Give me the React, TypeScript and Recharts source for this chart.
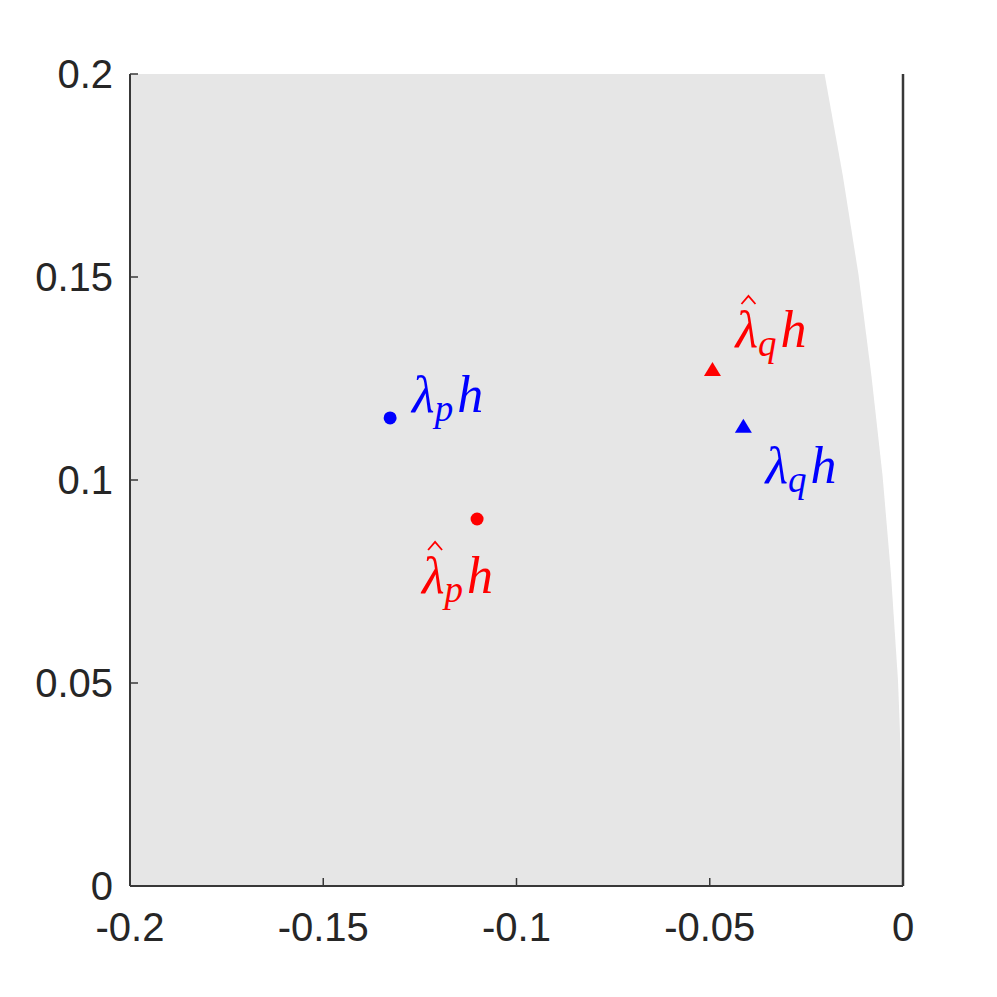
import { ComposedChart, Area, Scatter, XAxis, YAxis, ReferenceLine } from "recharts"

// stability region boundary (gray = region under the curve)
const boundaryX = [-0.2, -0.0203, -0.0156, -0.0115, -0.0082, -0.0053, -0.0031, -0.0013, -0.0009, -0.0002, 0]
const boundaryY = [0.2, 0.2, 0.1751, 0.1505, 0.1259, 0.1012, 0.0766, 0.0507, 0.0409, 0.0212, 0]

// exact eigenvalues (blue) and approximations (red)
const exactNames = ["p", "q"]
const exactX = [-0.1327, -0.0413]
const exactY = [0.1153, 0.1131]

const approxNames = ["p", "q"]
const approxX = [-0.1102, -0.0493]
const approxY = [0.0904, 0.1271]

const xTicks = [-0.2, -0.15, -0.1, -0.05, 0]
const yTicks = [0, 0.05, 0.1, 0.15, 0.2]

const W = 989
const H = 989
const SANS = "'Liberation Sans', Arial, Helvetica, sans-serif"
const MATH = "'Liberation Serif', 'Times New Roman', serif"
const TICK_COLOR = "#262626"
const AXIS_COLOR = "#383838"

const boundary = boundaryX.map((x, i) => ({ x, y: boundaryY[i] }))
const exact = exactX.map((x, i) => ({ x, y: exactY[i], name: exactNames[i], hat: false }))
const approx = approxX.map((x, i) => ({ x, y: approxY[i], name: approxNames[i], hat: true }))

// label offsets from the marker: [dx to text start, dy to baseline]
const offsets: Record<string, [number, number]> = {
  p: [22, -6],
  q: [22, 56],
  hp: [-55, 74],
  hq: [23, -23],
}

function Marker(props: any) {
  const { cx, cy, fill, payload } = props
  const key = (payload.hat ? "h" : "") + payload.name
  const [dx, dy] = offsets[key]
  const lx = cx + dx
  const ly = cy + dy
  const marker =
    payload.name === "p" ? (
      <circle cx={cx} cy={cy} r={6.5} fill={fill} />
    ) : (
      <polygon points={`${cx},${cy - 8} ${cx - 8.5},${cy + 6} ${cx + 8.5},${cy + 6}`} fill={fill} />
    )
  return (
    <g>
      {marker}
      {payload.hat && (
        <path d={`M${lx + 6},${ly - 43} L${lx + 13},${ly - 51} L${lx + 20},${ly - 43}`} stroke={fill} strokeWidth={1.8} fill="none" />
      )}
      <text x={lx} y={ly} fill={fill} fontFamily={MATH} fontStyle="italic" fontSize={52}>
        λ
        <tspan fontSize={37} dy={9}>
          {payload.name}
        </tspan>
        <tspan fontSize={52} dy={-9} dx={4}>
          h
        </tspan>
      </text>
    </g>
  )
}

function XTick(props: any) {
  const { x, y, payload } = props
  return (
    <g>
      <line x1={x} x2={x} y1={y - 27} y2={y - 35} stroke={AXIS_COLOR} strokeWidth={1.5} />
      <text x={x} y={y} dy="0.71em" textAnchor="middle" fill={TICK_COLOR} fontFamily={SANS} fontSize={40}>
        {String(payload.value)}
      </text>
    </g>
  )
}

function YTick(props: any) {
  const { x, y, payload } = props
  return (
    <g>
      <line x1={x + 17} x2={x + 25} y1={y} y2={y} stroke={AXIS_COLOR} strokeWidth={1.5} />
      <text x={x} y={y} dy="0.36em" textAnchor="end" fill={TICK_COLOR} fontFamily={SANS} fontSize={40}>
        {String(payload.value)}
      </text>
    </g>
  )
}

export default function App() {
  return (
    <div style={{ width: W, height: H }}>
      <ComposedChart width={W} height={H} margin={{ top: 66, right: 94, bottom: 51, left: 22 }}>
        <XAxis
          type="number"
          dataKey="x"
          domain={[-0.2, 0]}
          ticks={xTicks}
          allowDataOverflow
          height={60}
          tickSize={0}
          tickMargin={27}
          tickLine={false}
          axisLine={{ stroke: AXIS_COLOR, strokeWidth: 2 }}
          tick={<XTick />}
        />
        <YAxis
          type="number"
          domain={[0, 0.2]}
          ticks={yTicks}
          allowDataOverflow
          width={100}
          tickSize={0}
          tickMargin={17}
          tickLine={false}
          axisLine={{ stroke: AXIS_COLOR, strokeWidth: 2 }}
          tick={<YTick />}
        />
        <Area
          data={boundary}
          dataKey="y"
          type="linear"
          fill="#e6e6e6"
          fillOpacity={1}
          stroke="none"
          baseValue={0}
          isAnimationActive={false}
        />
        <ReferenceLine x={0} stroke={AXIS_COLOR} strokeWidth={2.5} />
        <Scatter data={exact} dataKey="y" fill="#0000ff" shape={<Marker />} isAnimationActive={false} />
        <Scatter data={approx} dataKey="y" fill="#ff0000" shape={<Marker />} isAnimationActive={false} />
      </ComposedChart>
    </div>
  )
}
